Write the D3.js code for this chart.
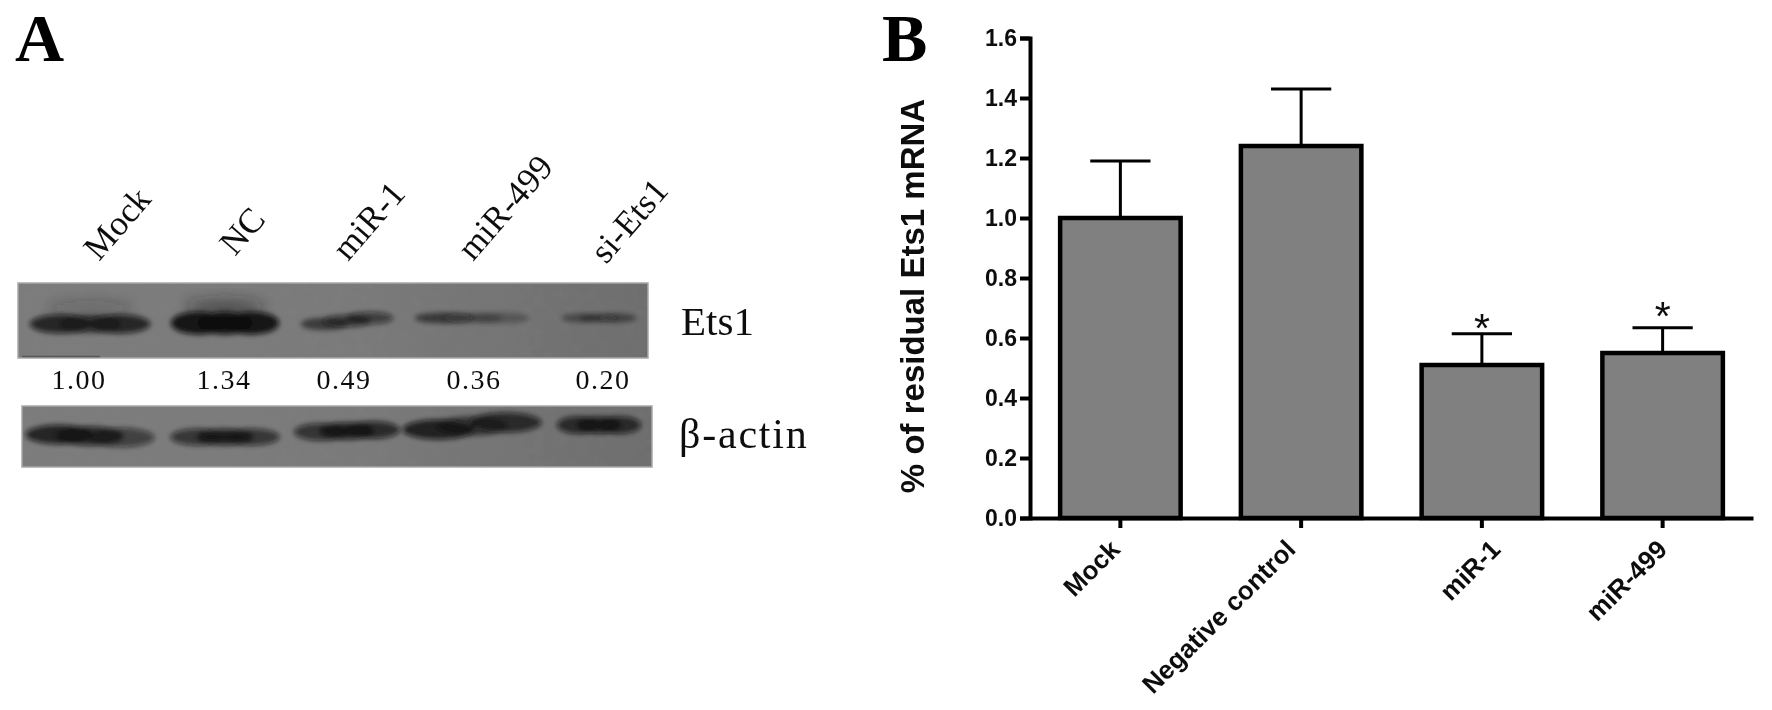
<!DOCTYPE html>
<html lang="en">
<head>
<meta charset="utf-8">
<title>Ets1 western blot and mRNA</title>
<style>
body { margin: 0; background: #fff; }
svg { display: block; }
.serif { font-family: "Liberation Serif", serif; fill: #111; }
.sans { font-family: "Liberation Sans", Arial, sans-serif; font-weight: bold; fill: #111; }
.axis path, .axis line { stroke: #000; stroke-width: 4px; fill: none; }
.axis text { font: bold 23px "Liberation Sans", Arial, sans-serif; fill: #111; }
</style>
</head>
<body>
<div id="chart"></div>
<script src="https://d3js.org/d3.v7.min.js"></script>
<script>
// panel A values
var lanes = ["Mock", "NC", "miR-1", "miR-499", "si-Ets1"];
var ets1Density = [1.00, 1.34, 0.49, 0.36, 0.20];
var actinDensity = [1.05, 0.85, 0.9, 1.1, 0.9]; // no numbers printed, judged by eye

// panel B values
var groups = ["Mock", "Negative control", "miR-1", "miR-499"];
var residual = [1.00, 1.24, 0.51, 0.55];
var errorTop = [1.19, 1.43, 0.614, 0.634];
var starred = ["miR-1", "miR-499"];
var yTicks = [0, 0.2, 0.4, 0.6, 0.8, 1.0, 1.2, 1.4, 1.6];

var svg = d3.select("#chart").append("svg")
    .attr("width", 1772)
    .attr("height", 710);

var defs = svg.append("defs");
defs.append("filter").attr("id", "soft")
    .attr("x", "-30%").attr("y", "-80%").attr("width", "160%").attr("height", "260%")
  .append("feGaussianBlur").attr("stdDeviation", 2.6);
defs.append("filter").attr("id", "smear")
    .attr("x", "-30%").attr("y", "-80%").attr("width", "160%").attr("height", "260%")
  .append("feGaussianBlur").attr("stdDeviation", 7);
defs.append("filter").attr("id", "print")
    .attr("x", "-2%").attr("y", "-2%").attr("width", "104%").attr("height", "104%")
  .append("feGaussianBlur").attr("stdDeviation", 0.45);

// film grain for the blots, kept inside the rect it is applied to
var grain = defs.append("filter").attr("id", "grain")
    .attr("x", "0%").attr("y", "0%").attr("width", "100%").attr("height", "100%");
grain.append("feTurbulence")
    .attr("type", "fractalNoise").attr("baseFrequency", 0.09).attr("numOctaves", 3).attr("seed", 4);
grain.append("feColorMatrix")
    .attr("values", "0 0 0 0 0.25  0 0 0 0 0.25  0 0 0 0 0.25  1.1 0 0 0 -0.42");

var sheen = defs.append("linearGradient").attr("id", "sheen");
sheen.append("stop").attr("offset", "0%").attr("stop-color", "#7c7c7c");
sheen.append("stop").attr("offset", "55%").attr("stop-color", "#7a7a7a");
sheen.append("stop").attr("offset", "100%").attr("stop-color", "#6e6e6e");

var page = svg.append("g").attr("filter", "url(#print)");

// ---- panel A ----
var panelA = page.append("g");

panelA.append("text").attr("class", "serif")
    .attr("x", 15).attr("y", 61)
    .style("font-size", "68px").style("font-weight", "bold").style("fill", "#000")
    .text("A");

var lanePos = d3.scaleOrdinal().domain(lanes).range([90, 225, 347, 472, 599]);
var laneLabelX = d3.scaleOrdinal().domain(lanes).range([99, 235, 348, 473, 606]);
var laneLabelY = d3.scaleOrdinal().domain(lanes).range([262, 257, 262, 262, 265]);
var numberPos = d3.scaleOrdinal().domain(lanes).range([79, 224, 344, 474, 603]);

// lane names tilted over the blot
panelA.selectAll(".lane-label")
    .data(lanes)
  .enter().append("text")
    .attr("class", "serif lane-label")
    .attr("transform", function(d) { return "translate(" + laneLabelX(d) + "," + laneLabelY(d) + ") rotate(-49)"; })
    .style("font-size", "35px")
    .text(function(d) { return d; });

var densityOpacity = d3.scaleLinear().domain([0.2, 1.34]).range([0.5, 1]).clamp(true);
var densityThick = d3.scaleLinear().domain([0.2, 1.34]).range([4.5, 11.5]);

var blots = [
  { name: "Ets1", values: ets1Density, x: 18, y: 283, w: 630, h: 75,
    bandWidth: [116, 104, 89, 111, 72], bandY: [324, 323, 321, 318, 318],
    tilt: [0, 0, -6, 0, 0],
    left: [1, 1, 0.9, 1, 0.8], mid: [0.6, 1, 1, 0.45, 0.7], right: [1, 1, 1, 0.5, 0.9] },
  { name: "actin", values: actinDensity, x: 22, y: 406, w: 630, h: 61,
    bandWidth: [124, 105, 102, 134, 81], bandY: [436, 437, 431, 426, 425],
    tilt: [3, 0, -2, -7, 0],
    left: [1, 0.9, 0.9, 1, 1], mid: [0.9, 1, 1, 0.6, 1], right: [0.7, 0.9, 1, 0.9, 1] }
];

blots.forEach(function(blot) {
  var g = panelA.append("g");
  g.append("rect")
      .attr("x", blot.x).attr("y", blot.y)
      .attr("width", blot.w).attr("height", blot.h)
      .attr("fill", "url(#sheen)");

  g.append("rect")
      .attr("x", blot.x).attr("y", blot.y)
      .attr("width", blot.w).attr("height", blot.h)
      .attr("filter", "url(#grain)")
      .attr("opacity", 0.2);

  // lighter smear above the heavy bands
  var smears = g.append("g").attr("filter", "url(#smear)");
  lanes.forEach(function(lane, i) {
    if (blot.name == "Ets1" && blot.values[i] >= 1) {
      smears.append("ellipse")
          .attr("cx", lanePos(lane))
          .attr("cy", blot.bandY[i] - 16)
          .attr("rx", blot.bandWidth[i] * 0.38)
          .attr("ry", 7)
          .attr("fill", "#222")
          .attr("opacity", (blot.values[i] - 0.7) * 0.8);
    }
  });

  var bands = g.append("g").attr("filter", "url(#soft)");
  lanes.forEach(function(lane, i) {
    var v = blot.values[i];
    var w = blot.bandWidth[i];
    // each band is three overlapping lobes, the gel smears unevenly
    [[-1, blot.left[i]], [0, blot.mid[i]], [1, blot.right[i]]].forEach(function(lobe) {
      bands.append("ellipse")
          .attr("cx", lanePos(lane) + lobe[0] * w * 0.25)
          .attr("cy", blot.bandY[i] + lobe[0] * blot.tilt[i] / 2)
          .attr("rx", w * 0.27)
          .attr("ry", densityThick(v))
          .attr("fill", "#0c0c0c")
          .attr("opacity", densityOpacity(v) * lobe[1] * 0.92);
    });
  });

  g.append("rect")
      .attr("x", blot.x).attr("y", blot.y)
      .attr("width", blot.w).attr("height", blot.h)
      .attr("fill", "none")
      .attr("stroke", "#a8a8a8").attr("stroke-width", 1.5);
});

// scratch along the bottom left of the Ets1 film
panelA.append("line")
    .attr("x1", 22).attr("x2", 100).attr("y1", 356.5).attr("y2", 356.5)
    .attr("stroke", "#333").attr("stroke-width", 1.5).attr("opacity", 0.5);

panelA.selectAll(".density")
    .data(lanes)
  .enter().append("text")
    .attr("class", "serif density")
    .attr("x", function(d) { return numberPos(d); })
    .attr("y", 389)
    .attr("text-anchor", "middle")
    .style("font-size", "28px")
    .style("letter-spacing", "1.5px")
    .text(function(d, i) { return ets1Density[i].toFixed(2); });

panelA.append("text").attr("class", "serif")
    .attr("x", 681).attr("y", 335)
    .style("font-size", "41px")
    .text("Ets1");

panelA.append("text").attr("class", "serif")
    .attr("x", 679).attr("y", 448)
    .style("font-size", "42px")
    .style("letter-spacing", "1.8px")
    .text("β-actin");

// ---- panel B ----
var panelB = page.append("g");

panelB.append("text").attr("class", "serif")
    .attr("x", 882).attr("y", 61)
    .style("font-size", "68px").style("font-weight", "bold").style("fill", "#000")
    .text("B");

var x = d3.scaleBand()
    .domain(groups)
    .range([1030, 1753])
    .paddingInner(1 / 3)
    .paddingOuter(1 / 6);

var y = d3.scaleLinear()
    .domain([0, 1.6])
    .range([518, 38]);

// error bars go under the bars
panelB.selectAll(".err-stem")
    .data(groups)
  .enter().append("line")
    .attr("class", "err-stem")
    .attr("x1", function(d) { return x(d) + x.bandwidth() / 2; })
    .attr("x2", function(d) { return x(d) + x.bandwidth() / 2; })
    .attr("y1", function(d, i) { return y(residual[i]); })
    .attr("y2", function(d, i) { return y(errorTop[i]); })
    .attr("stroke", "#000").attr("stroke-width", 3);

panelB.selectAll(".err-cap")
    .data(groups)
  .enter().append("line")
    .attr("class", "err-cap")
    .attr("x1", function(d) { return x(d) + x.bandwidth() / 4; })
    .attr("x2", function(d) { return x(d) + x.bandwidth() * 3 / 4; })
    .attr("y1", function(d, i) { return y(errorTop[i]); })
    .attr("y2", function(d, i) { return y(errorTop[i]); })
    .attr("stroke", "#000").attr("stroke-width", 3);

panelB.selectAll(".bar")
    .data(groups)
  .enter().append("rect")
    .attr("class", "bar")
    .attr("x", function(d) { return x(d); })
    .attr("y", function(d, i) { return y(residual[i]); })
    .attr("width", x.bandwidth())
    .attr("height", function(d, i) { return y(0) - y(residual[i]); })
    .attr("fill", "#808080")
    .attr("stroke", "#000")
    .attr("stroke-width", 4.5);

var yAxis = panelB.append("g")
    .attr("class", "axis axis-y")
    .attr("transform", "translate(1030,0)")
    .call(d3.axisLeft(y).tickValues(yTicks).tickFormat(d3.format(".1f")).tickSize(10).tickPadding(3));

var xAxis = panelB.append("g")
    .attr("class", "axis axis-x")
    .attr("transform", "translate(0,518)")
    .call(d3.axisBottom(x).tickSize(10).tickSizeOuter(0));

// the labels do not sit evenly under their ticks in the original
var labelShift = d3.scaleOrdinal().domain(groups).range([-5, -10, 14, 0]);

xAxis.selectAll("text")
    .attr("text-anchor", "end")
    .attr("dx", 0)
    .attr("dy", 0)
    .attr("x", 0)
    .attr("y", 0)
    .style("font-size", "26px")
    .attr("transform", function(d) { return "translate(" + (6 + labelShift(d)) + ",33) rotate(-45)"; });

panelB.append("text").attr("class", "sans")
    .attr("transform", "translate(924,296) rotate(-90)")
    .attr("text-anchor", "middle")
    .style("font-size", "33px")
    .text("% of residual Ets1 mRNA");

var starDrop = d3.scaleOrdinal().domain(starred).range([8, 2]);

panelB.selectAll(".star")
    .data(starred)
  .enter().append("text")
    .attr("class", "star")
    .attr("x", function(d) { return x(d) + x.bandwidth() / 2; })
    .attr("y", function(d) { return y(errorTop[groups.indexOf(d)]) + starDrop(d); })
    .attr("text-anchor", "middle")
    .style("font-family", '"Liberation Sans", Arial, sans-serif')
    .style("font-size", "41px")
    .style("fill", "#111")
    .text("*");
</script>
</body>
</html>
